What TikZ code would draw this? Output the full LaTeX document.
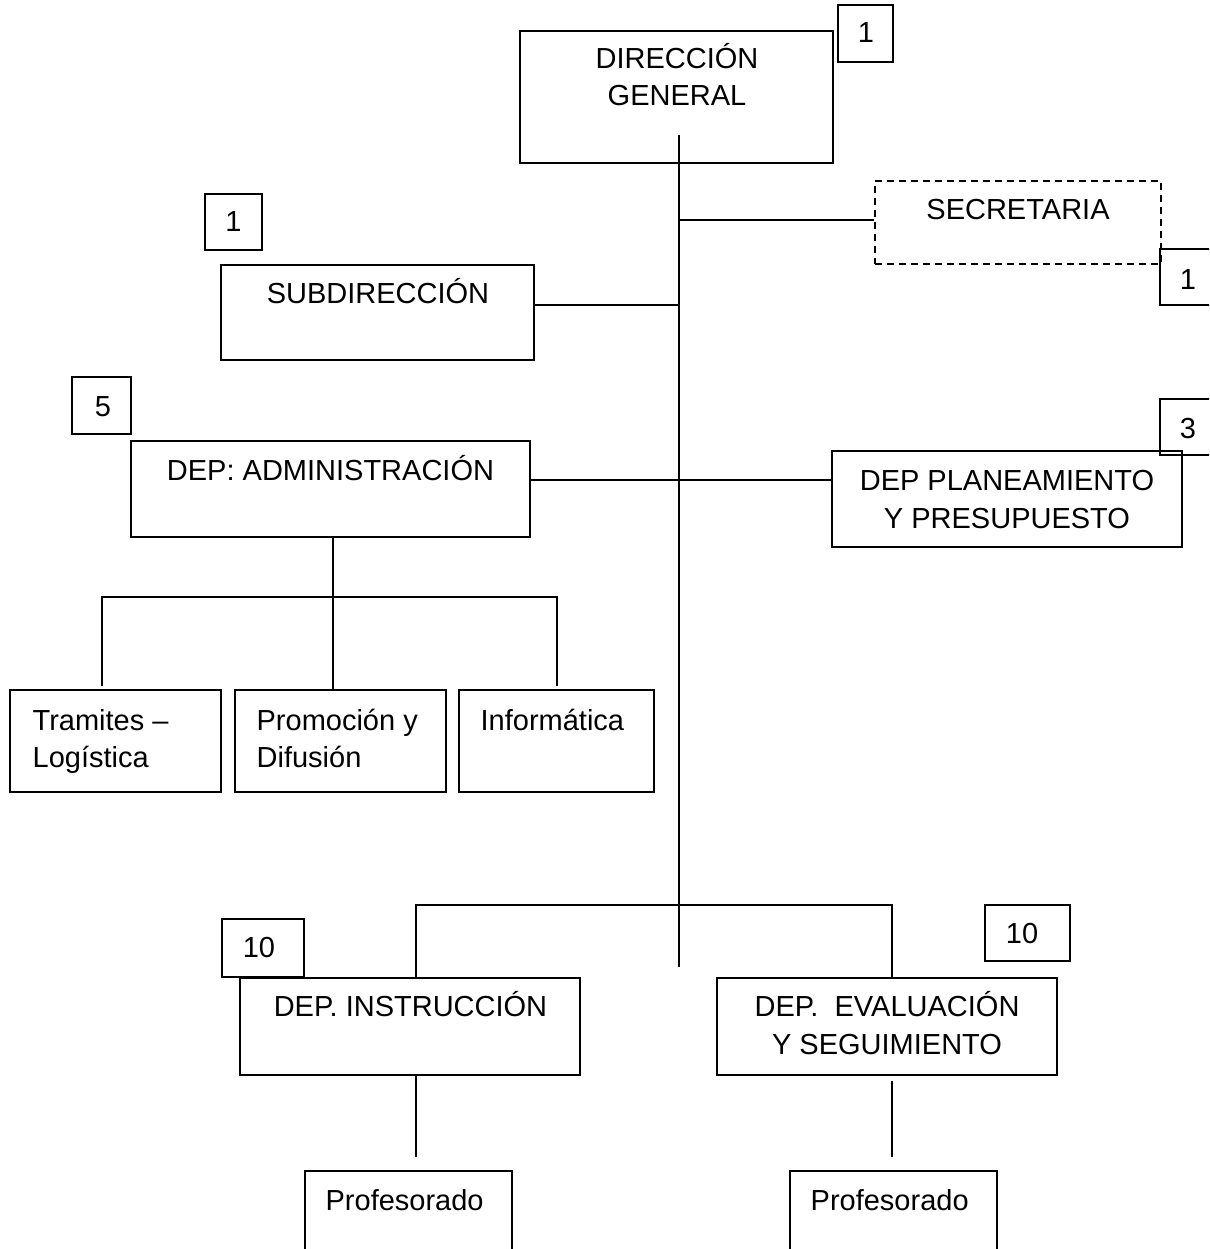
\documentclass[tikz,border=0pt]{standalone}
\usepackage{fontspec}
\setmainfont{Liberation Sans}
\begin{document}
\begin{tikzpicture}[x=1pt,y=-1pt,line width=1.3pt,
  box/.style={draw,rectangle,inner sep=0pt},
  dashbox/.style={box,dash pattern=on 7pt off 5pt},
  lbl/.style={font=\fontsize{29}{37}\selectfont,inner sep=0pt,anchor=base},
  lbll/.style={lbl,anchor=base west},
  wire/.style={line width=1.4pt}]
\useasboundingbox (0,0) rectangle (1209,1249);
\clip (0,0) rectangle (1209,1249);

% main units
\node[box,minimum width=313pt,minimum height=132pt] (dg) at (676.5,97) {};
\node[dashbox,minimum width=286pt,minimum height=83pt] (sec) at (1018,222.5) {};
\node[box,minimum width=313pt,minimum height=95pt] (sub) at (377.5,312.5) {};
\node[box,minimum width=399pt,minimum height=96pt] (adm) at (330.5,489) {};
\node[box,minimum width=350pt,minimum height=96pt] (plan) at (1007,499) {};
\node[box,minimum width=211pt,minimum height=102pt] (tram) at (115.5,741) {};
\node[box,minimum width=211pt,minimum height=102pt] (prom) at (340.5,741) {};
\node[box,minimum width=195pt,minimum height=102pt] (info) at (556.5,741) {};
\node[box,minimum width=340pt,minimum height=97pt] (instr) at (410,1026.5) {};
\node[box,minimum width=340pt,minimum height=97pt] (eval) at (887,1026.5) {};
\node[box,minimum width=207pt,minimum height=100pt] (prof1) at (408.5,1221) {};
\node[box,minimum width=207pt,minimum height=100pt] (prof2) at (893.5,1221) {};

% staff count boxes
\node[box,minimum width=55pt,minimum height=57pt] (nDg) at (865.5,33.5) {};
\node[box,minimum width=57pt,minimum height=56pt] (nSub) at (233.5,222) {};
\node[box,minimum width=55pt,minimum height=56pt] (nSec) at (1187.5,277) {};
\node[box,minimum width=59pt,minimum height=57pt] (nAdm) at (101.5,405.5) {};
\node[box,minimum width=55pt,minimum height=56pt] (nPlan) at (1187.5,427) {};
\node[box,minimum width=82pt,minimum height=58pt] (nInstr) at (263,948) {};
\node[box,minimum width=85pt,minimum height=56pt] (nEval) at (1027.5,933) {};

% labels
\node[lbl] (tDg1) at (677,69) {DIRECCIÓN};
\node[lbl] (tDg2) at (677,106) {GENERAL};
\node[lbl] (tSec) at (1018,220) {SECRETARIA};
\node[lbl] (tSub) at (378,303) {SUBDIRECCIÓN};
\node[lbl] (tAdm) at (330.5,480) {DEP: ADMINISTRACIÓN};
\node[lbl] (tPlan1) at (1007,490) {DEP PLANEAMIENTO};
\node[lbl] (tPlan2) at (1007,528) {Y PRESUPUESTO};
\node[lbll] (tTram1) at (32,730) {Tramites –};
\node[lbll] (tTram2) at (32,767) {Logística};
\node[lbll] (tProm1) at (256,730) {Promoción y};
\node[lbll] (tProm2) at (256,767) {Difusión};
\node[lbll] (tInfo) at (480,730) {Informática};
\node[lbl] (tInstr) at (410.5,1016) {DEP. INSTRUCCIÓN};
\node[lbl] (tEval1) at (887,1016) {DEP.\ \ EVALUACIÓN};
\node[lbl] (tEval2) at (887,1054) {Y SEGUIMIENTO};
\node[lbll] (tProf1) at (325,1210) {Profesorado};
\node[lbll] (tProf2) at (810,1210) {Profesorado};

\node[lbl] (cDg) at (866,43) {1};
\node[lbl] (cSub) at (233.5,232) {1};
\node[lbl] (cSec) at (1188,289) {1};
\node[lbl] (cAdm) at (103,416) {5};
\node[lbl] (cPlan) at (1188,438) {3};
\node[lbl] (cInstr) at (259,957) {10};
\node[lbl] (cEval) at (1022,943) {10};

% trunk and branches
\coordinate (tTop) at (679,135);
\coordinate (tEnd) at (679,967);
\draw[wire] (tTop) -- (tEnd);
\coordinate (jSec) at (679,220);
\draw[wire] (jSec) -- (jSec -| sec.west);
\coordinate (jSub) at (679,305);
\draw[wire] (sub.east |- jSub) -- (jSub);
\coordinate (jDep) at (679,480);
\draw[wire] (adm.east |- jDep) -- (jDep -| plan.west);

% administration sections
\coordinate (aMid) at (333,597);
\coordinate (aL) at (102,597);
\coordinate (aR) at (557,597);
\draw[wire] (adm.south -| aMid) -- (aMid) -- (prom.north -| aMid);
\draw[wire,shorten <=3pt,shorten >=3pt] (aL |- tram.north) -- (aL) -- (aR) -- (aR |- info.north);

% lower departments
\coordinate (bL) at (416,905);
\coordinate (bR) at (892,905);
\draw[wire] (instr.north -| bL) -- (bL) -- (bR) -- (eval.north -| bR);
\draw[wire,shorten >=13pt] (instr.south -| bL) -- (prof1.north -| bL);
\draw[wire,shorten <=5pt,shorten >=13pt] (eval.south -| bR) -- (prof2.north -| bR);
\end{tikzpicture}
\end{document}
